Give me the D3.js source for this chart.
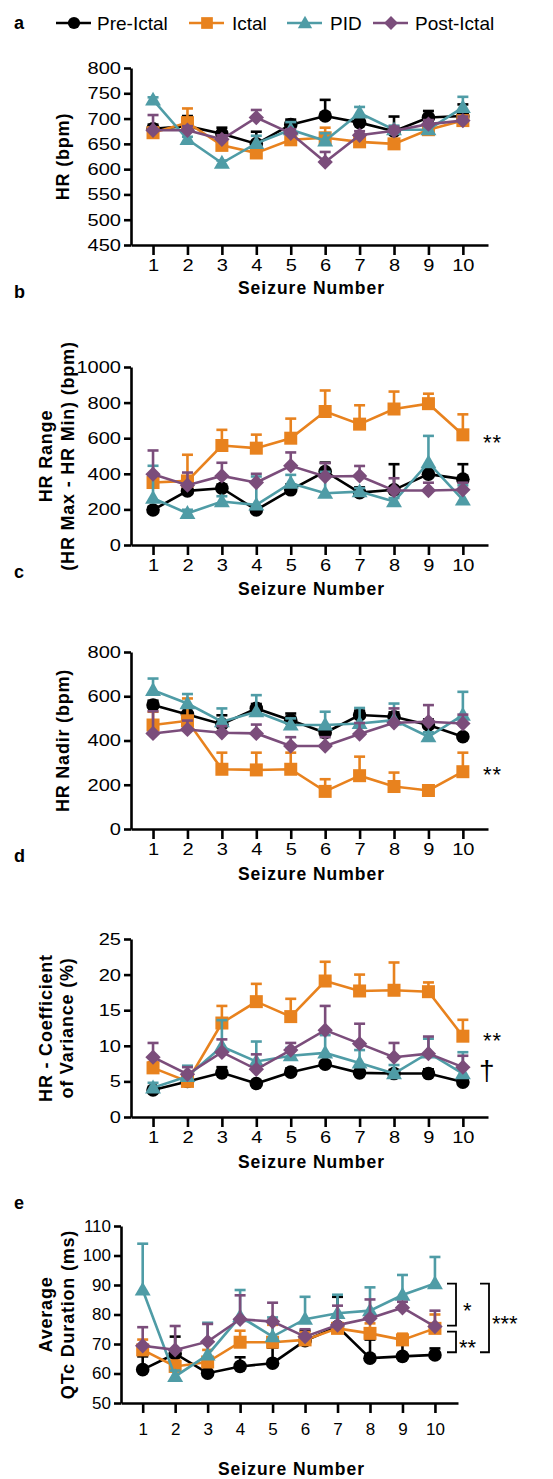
<!DOCTYPE html>
<html>
<head>
<meta charset="utf-8">
<script src="https://cdn.jsdelivr.net/npm/d3@7"></script>
<style>
  body { margin: 0; background: #fff; }
  svg text { font-family: "Liberation Sans", Arial, sans-serif; fill: #000; }
</style>
</head>
<body>
<svg id="chart" width="553" height="1479"></svg>
<script>
// seizure index on the x axis
var seizures = [1, 2, 3, 4, 5, 6, 7, 8, 9, 10];
var seriesNames = ["Pre-Ictal", "Ictal", "PID", "Post-Ictal"];
var seriesColors = ["#000000", "#e8821e", "#4f9ca6", "#7b4d7b"];

// a - HR (bpm)
var hrPre = [680, 685, 670, 650, 688, 705, 692, 675, 702, 705];
var hrPreSem = [8, 20, 12, 24, 10, 32, 8, 29, 13, 23];
var hrIctal = [672, 692, 647, 632, 658, 662, 654, 650, 678, 696];
var hrIctalSem = [10, 28, 10, 5, 8, 20, 8, 8, 8, 5];
var hrPid = [737, 659, 612, 651, 678, 656, 711, 678, 678, 722];
var hrPidSem = [5, 5, 5, 15, 15, 15, 12, 8, 5, 21];
var hrPost = [677, 677, 659, 702, 671, 614, 667, 676, 689, 696];
var hrPostSem = [30, 8, 8, 15, 8, 20, 8, 8, 8, 8];

// b - HR range
var rangePre = [197, 304, 319, 197, 310, 413, 294, 310, 398, 370];
var rangePreSem = [15, 25, 20, 20, 30, 50, 30, 144, 40, 84];
var rangeIctal = [351, 360, 559, 544, 600, 750, 679, 764, 794, 619];
var rangeIctalSem = [25, 147, 88, 76, 110, 118, 106, 98, 56, 115];
var rangePid = [263, 178, 244, 225, 347, 291, 300, 244, 463, 253];
var rangePidSem = [182, 20, 30, 160, 47, 120, 20, 20, 150, 82];
var rangePost = [398, 336, 388, 351, 445, 385, 388, 306, 306, 310];
var rangePostSem = [133, 71, 74, 49, 75, 75, 56, 69, 44, 40];

// c - HR nadir
var nadirPre = [560, 518, 474, 545, 492, 435, 515, 507, 470, 417];
var nadirPreSem = [20, 30, 40, 20, 30, 30, 20, 20, 25, 10];
var nadirIctal = [470, 489, 270, 267, 270, 170, 241, 192, 174, 259];
var nadirIctalSem = [60, 101, 75, 78, 75, 55, 86, 63, 20, 86];
var nadirPid = [627, 567, 485, 530, 470, 470, 477, 492, 417, 515];
var nadirPidSem = [53, 43, 60, 75, 30, 60, 70, 75, 20, 105];
var nadirPost = [432, 450, 435, 432, 375, 375, 429, 480, 485, 477];
var nadirPostSem = [100, 40, 30, 40, 40, 40, 50, 65, 75, 40];

// d - HR coefficient of variance
var cvPre = [3.8, 5.0, 6.2, 4.7, 6.3, 7.4, 6.2, 6.1, 6.1, 4.9];
var cvPreSem = [0.3, 0.3, 0.8, 0.3, 0.5, 0.4, 0.4, 0.5, 0.6, 0.3];
var cvIctal = [6.9, 5.0, 13.2, 16.2, 14.1, 19.1, 17.7, 17.8, 17.6, 11.35];
var cvIctalSem = [0.8, 0.5, 2.4, 2.5, 2.5, 2.7, 2.3, 3.9, 1.3, 2.3];
var cvPid = [4.1, 5.7, 9.9, 7.8, 8.6, 9.0, 7.6, 6.1, 9.0, 6.1];
var cvPidSem = [0.7, 1.5, 3.7, 2.8, 1.1, 2.5, 1.8, 1.2, 2.0, 3.0];
var cvPost = [8.4, 6.0, 9.1, 6.7, 9.4, 12.2, 10.3, 8.4, 8.9, 7.0];
var cvPostSem = [2.0, 1.0, 1.8, 2.1, 1.0, 3.4, 2.8, 2.0, 2.4, 1.6];

// e - average QTc duration
var qtcPre = [61.3, 66.7, 60.1, 62.4, 63.5, 71.1, 75.9, 65.2, 65.8, 66.3];
var qtcPreSem = [4.5, 5.8, 3.4, 3.1, 5.3, 3.4, 10.1, 6.3, 4.2, 2.2];
var qtcIctal = [68.0, 62.4, 63.9, 70.6, 70.6, 71.4, 75.3, 73.6, 71.4, 75.3];
var qtcIctalSem = [3.5, 2.0, 4.1, 3.9, 5.9, 2.6, 3.7, 3.4, 2.1, 4.7];
var qtcPid = [88.3, 59.0, 66.3, 79.3, 72.5, 78.4, 80.4, 81.3, 86.6, 90.5];
var qtcPidSem = [15.7, 2.0, 10.9, 9.0, 6.5, 7.6, 6.3, 7.9, 6.8, 9.0];
var qtcPost = [69.4, 68.0, 70.8, 78.4, 77.6, 72.5, 76.4, 78.7, 82.3, 75.9];
var qtcPostSem = [6.3, 8.1, 6.0, 8.1, 6.4, 2.5, 6.6, 6.4, 2.0, 5.4];

var svg = d3.select("#chart");

function drawMarker(g, i, x, y, s) {
    var color = seriesColors[i];
    if (i == 0) {
        g.append("circle").attr("cx", x).attr("cy", y).attr("r", 6.8 * s).attr("fill", color);
    } else if (i == 1) {
        g.append("rect").attr("x", x - 6.5 * s).attr("y", y - 6.5 * s)
            .attr("width", 13 * s).attr("height", 13 * s).attr("fill", color);
    } else if (i == 2) {
        g.append("path").attr("transform", `translate(${x},${y + 1})`)
            .attr("d", d3.symbol().type(d3.symbolTriangle).size(110 * s * s)()).attr("fill", color);
    } else {
        g.append("path").attr("transform", `translate(${x},${y}) rotate(45)`)
            .attr("d", d3.symbol().type(d3.symbolSquare).size(118 * s * s)()).attr("fill", color);
    }
}

function drawPanel(p) {
    var g = svg.append("g");
    var x = d3.scaleLinear().domain(p.xDomain).range([p.left, p.right]);
    var y = d3.scaleLinear().domain(p.yDomain).range([p.bottom, p.top]);

    // y axis
    var yAxis = g.append("g").attr("transform", `translate(${p.left},0)`)
        .call(d3.axisLeft(y).tickValues(p.yTicks).tickFormat(d3.format("d"))
            .tickSize(7).tickSizeOuter(0).tickPadding(3));
    // x axis
    var xAxis = g.append("g").attr("transform", `translate(0,${p.bottom})`)
        .call(d3.axisBottom(x).tickValues(seizures).tickSize(10).tickSizeOuter(0).tickPadding(5));
    [yAxis, xAxis].forEach(a => {
        a.selectAll("path, line").attr("stroke", "#000").attr("stroke-width", 2.6);
        a.selectAll("text").style("font-size", p.tickFont + "px").attr("fill", "#000");
    });
    // wide numerals in panels a-d
    if (p.stretch != 1) {
        yAxis.selectAll("text").attr("x", -10 / p.stretch)
            .attr("transform", `scale(${p.stretch},1)`);
        xAxis.selectAll("text").attr("transform", `scale(${p.stretch},1)`);
    }
    xAxis.selectAll("text").attr("dy", "0.71em").attr("y", p.tickLabelY);

    // axis titles
    g.append("text")
        .attr("x", (p.left + p.right) / 2 + 2).attr("y", p.bottom + p.xTitleDy)
        .attr("text-anchor", "middle").attr("dominant-baseline", "central")
        .style("font-size", "17.5px").style("font-weight", "bold").style("letter-spacing", "1px")
        .text("Seizure Number");
    p.yTitle.forEach((t, k) => {
        let cx = p.yTitleX[k];
        let cy = (p.top + p.bottom) / 2;
        g.append("text").attr("transform", `translate(${cx},${cy}) rotate(-90)`)
            .attr("text-anchor", "middle").attr("dominant-baseline", "central")
            .style("font-size", "18px").style("font-weight", "bold").style("letter-spacing", "0.8px")
            .text(t);
    });
    g.append("text").attr("x", 14).attr("y", p.letterY)
        .attr("dominant-baseline", "central")
        .style("font-size", "18px").style("font-weight", "bold").text(p.letter);

    // series: line, upper error bar, marker
    p.series.forEach((s, i) => {
        let mean = s[0], sem = s[1];
        let color = seriesColors[i];
        let sg = g.append("g");
        sg.append("path").datum(seizures)
            .attr("fill", "none").attr("stroke", color).attr("stroke-width", 2.6)
            .attr("d", d3.line().x(d => x(d)).y((d, j) => y(mean[j])));
        seizures.forEach((d, j) => {
            let top = y(mean[j] + sem[j]);
            sg.append("line").attr("x1", x(d)).attr("x2", x(d))
                .attr("y1", y(mean[j])).attr("y2", top)
                .attr("stroke", color).attr("stroke-width", 2.6);
            sg.append("line").attr("x1", x(d) - 5.5).attr("x2", x(d) + 5.5)
                .attr("y1", top).attr("y2", top)
                .attr("stroke", color).attr("stroke-width", 2.6);
        });
        seizures.forEach((d, j) => drawMarker(sg, i, x(d), y(mean[j]), 1));
    });

    if (p.notes) {
        p.notes.forEach(n => {
            g.append("text").attr("x", n.x).attr("y", y(n.v)).attr("dy", n.dy || 0)
                .attr("dominant-baseline", "central")
                .style("font-size", n.size + "px").style("letter-spacing", "1px").text(n.t);
        });
    }
    return y;
}

// legend
var legendX = [56, 189, 287, 373];
var legendTextX = [97, 232, 330, 415];
var legend = svg.append("g");
seriesNames.forEach((name, i) => {
    legend.append("line").attr("x1", legendX[i]).attr("x2", legendX[i] + 35)
        .attr("y1", 23).attr("y2", 23)
        .attr("stroke", seriesColors[i]).attr("stroke-width", 2.6);
    drawMarker(legend, i, legendX[i] + 18, 23, 0.9);
    legend.append("text").attr("x", legendTextX[i]).attr("y", 23)
        .attr("dominant-baseline", "central").style("font-size", "19px").text(name);
});

drawPanel({
    letter: "a", letterY: 23,
    top: 68, bottom: 245, left: 131, right: 488, xDomain: [0.36, 10.73],
    yDomain: [450, 800], yTicks: d3.range(450, 801, 50),
    tickFont: 17, stretch: 1.18, tickLabelY: 14, xTitleDy: 43,
    yTitle: ["HR (bpm)"], yTitleX: [63],
    series: [[hrPre, hrPreSem], [hrIctal, hrIctalSem], [hrPid, hrPidSem], [hrPost, hrPostSem]]
});

drawPanel({
    letter: "b", letterY: 292,
    top: 367, bottom: 545, left: 131, right: 488, xDomain: [0.36, 10.73],
    yDomain: [0, 1000], yTicks: d3.range(0, 1001, 200),
    tickFont: 17, stretch: 1.18, tickLabelY: 14, xTitleDy: 44,
    yTitle: ["HR Range", "(HR Max - HR Min) (bpm)"], yTitleX: [46, 68],
    series: [[rangePre, rangePreSem], [rangeIctal, rangeIctalSem], [rangePid, rangePidSem], [rangePost, rangePostSem]],
    notes: [{t: "**", x: 483, v: 600, size: 22, dy: 4}]
});

drawPanel({
    letter: "c", letterY: 572,
    top: 652, bottom: 829, left: 131, right: 488, xDomain: [0.36, 10.73],
    yDomain: [0, 800], yTicks: d3.range(0, 801, 200),
    tickFont: 17, stretch: 1.18, tickLabelY: 14, xTitleDy: 45,
    yTitle: ["HR Nadir (bpm)"], yTitleX: [63],
    series: [[nadirPre, nadirPreSem], [nadirIctal, nadirIctalSem], [nadirPid, nadirPidSem], [nadirPost, nadirPostSem]],
    notes: [{t: "**", x: 483, v: 265, size: 22, dy: 4}]
});

drawPanel({
    letter: "d", letterY: 856,
    top: 939, bottom: 1117, left: 131, right: 488, xDomain: [0.36, 10.73],
    yDomain: [0, 25], yTicks: d3.range(0, 26, 5),
    tickFont: 17, stretch: 1.18, tickLabelY: 14, xTitleDy: 45,
    yTitle: ["HR  - Coefficient", "of Variance (%)"], yTitleX: [46, 67],
    series: [[cvPre, cvPreSem], [cvIctal, cvIctalSem], [cvPid, cvPidSem], [cvPost, cvPostSem]],
    notes: [{t: "**", x: 483, v: 11.3, size: 22, dy: 4}, {t: "\u2020", x: 479, v: 6.6, size: 28}]
});

var yQtc = drawPanel({
    letter: "e", letterY: 1203,
    top: 1226, bottom: 1403, left: 121, right: 458, xDomain: [0.332, 10.71],
    yDomain: [50, 110], yTicks: d3.range(50, 111, 10),
    tickFont: 17, stretch: 1, tickLabelY: 20, xTitleDy: 66,
    yTitle: ["Average", "QTc Duration (ms)"], yTitleX: [46, 68],
    series: [[qtcPre, qtcPreSem], [qtcIctal, qtcIctalSem], [qtcPid, qtcPidSem], [qtcPost, qtcPostSem]]
});

// significance brackets in panel e
var brackets = [
    {x: 456, v0: 90.5, v1: 76.2, t: "*", tx: 463, size: 22},
    {x: 456, v0: 74.2, v1: 67.2, t: "**", tx: 459, size: 22},
    {x: 489, v0: 90.5, v1: 67.2, t: "***", tx: 492, size: 22}
];
brackets.forEach(b => {
    let y0 = yQtc(b.v0), y1 = yQtc(b.v1);
    svg.append("path")
        .attr("d", `M${b.x - 9},${y0}H${b.x}V${y1}H${b.x - 9}`)
        .attr("fill", "none").attr("stroke", "#000").attr("stroke-width", 1.8);
    svg.append("text").attr("x", b.tx).attr("y", (y0 + y1) / 2 + 6)
        .attr("dominant-baseline", "central")
        .style("font-size", b.size + "px").text(b.t);
});
</script>
</body>
</html>
